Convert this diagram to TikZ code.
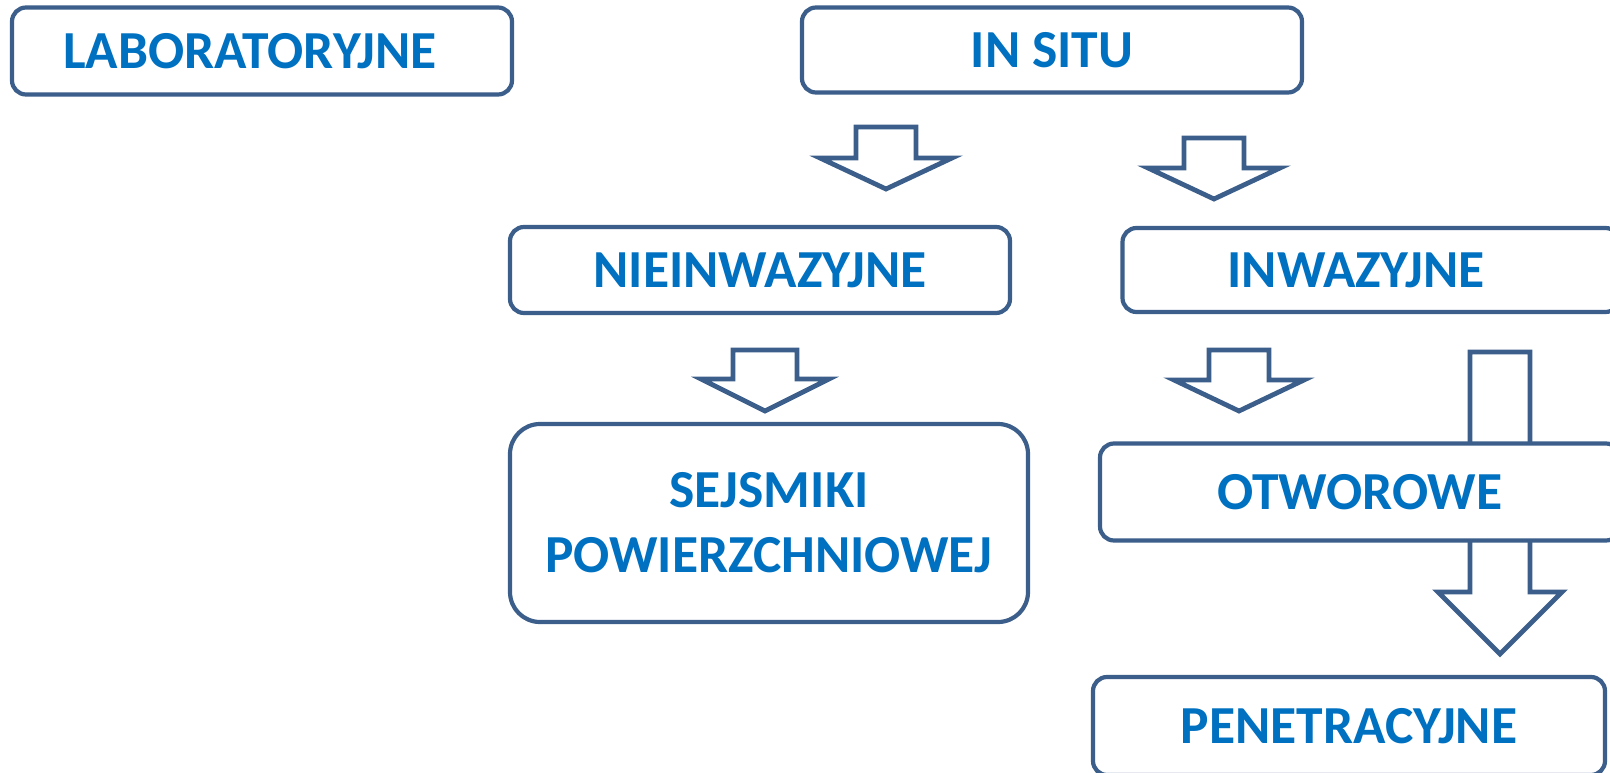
\documentclass[tikz,border=0pt]{standalone}
\usepackage{fontspec}
\setmainfont{Carlito}
\usetikzlibrary{positioning}
\definecolor{ramkaBlue}{RGB}{59,94,139}
\definecolor{napisBlue}{RGB}{0,112,192}

% block arrow: centre x, top y, head base y, tip y, stem half width, head half width
\newcommand{\blkarrow}[6]{%
  \draw[arrowbox] (#1-#5,#2) -- (#1+#5,#2) -- (#1+#5,#3) -- (#1+#6,#3)
    -- (#1,#4) -- (#1-#6,#3) -- (#1-#5,#3) -- cycle;}

\tikzset{
  box/.style={draw=ramkaBlue,line width=4.2pt,fill=white,rounded corners=14pt,
    text=napisBlue,font=\fontsize{53.5}{65}\selectfont\bfseries,align=center,
    inner sep=0pt},
  arrowbox/.style={draw=ramkaBlue,line width=4.8pt,fill=white,line join=miter}
}

\begin{document}
\begin{tikzpicture}[x=1pt,y=-1pt]
  \useasboundingbox (0,0) rectangle (1610,773);

  % top row
  \node[box,minimum width=500pt,minimum height=87pt] (lab) at (262,51)
    {LABORATORYJNE\hspace*{24pt}};
  \node[box,minimum width=500pt,minimum height=85pt] (insitu) at (1052,50) {IN SITU};

  \blkarrow{886}{127}{158}{189}{30}{66}
  \blkarrow{1214}{138}{168}{199}{30}{66}

  % second row
  \node[box,minimum width=500pt,minimum height=86pt] (niein) at (760,270) {NIEINWAZYJNE};
  \node[box,minimum width=497pt,minimum height=84pt] (inwaz) at (1371,270)
    {INWAZYJNE\hspace*{30pt}};

  \blkarrow{765}{350}{379}{411}{32}{64}
  \blkarrow{1239}{350}{380}{411}{30}{65}
  \blkarrow{1500}{352}{592}{654}{30}{62}

  % third row
  \node[box,rounded corners=30pt,minimum width=518pt,minimum height=198pt] (sejsm) at (769,523)
    {SEJSMIKI\\POWIERZCHNIOWEJ};
  \node[box,minimum width=520pt,minimum height=97pt] (otwor) at (1360,492) {OTWOROWE};
  \node[box,minimum width=512pt,minimum height=98pt] (penet) at (1349,726) {PENETRACYJNE};
\end{tikzpicture}
\end{document}
